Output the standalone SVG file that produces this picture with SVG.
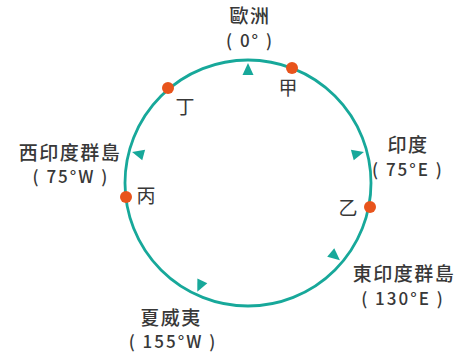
<svg xmlns="http://www.w3.org/2000/svg" xmlns:xlink="http://www.w3.org/1999/xlink" width="465" height="356" viewBox="0 0 465 356">
<style>
  .ring{fill:none;stroke:#17a89a;stroke-width:2.8}
  .tri{fill:#17a89a}
  .dot{fill:#e8541c}
  text{font-family:"Noto Sans CJK TC","Noto Sans",sans-serif;fill:#383838;text-anchor:middle;font-weight:500}
  .name{font-size:19px;letter-spacing:1.5px}
  .deg{font-size:17px;letter-spacing:2px}
  .pt{font-size:19px;font-weight:400}
</style>
<defs>
  <polygon id="mark" points="0,-120 -5.5,-108 5.5,-108"/>
</defs>
<rect width="465" height="356" fill="#ffffff"/>
<g id="connectors">
  <circle class="ring" cx="248" cy="183" r="123"/>
  <g class="tri">
    <use xlink:href="#mark" transform="translate(248,183) rotate(0)"/>
    <use xlink:href="#mark" transform="translate(248,183) rotate(75)"/>
    <use xlink:href="#mark" transform="translate(248,183) rotate(130)"/>
    <use xlink:href="#mark" transform="translate(248,183) rotate(205)"/>
    <use xlink:href="#mark" transform="translate(248,183) rotate(285)"/>
  </g>
</g>
<g id="europe">
  <text><tspan class="name" x="250" y="23">歐洲</tspan><tspan class="deg" x="250" y="47">( 0° )</tspan></text>
</g>
<g id="india">
  <text><tspan class="name" x="408" y="152">印度</tspan><tspan class="deg" x="408" y="176">( 75°E )</tspan></text>
</g>
<g id="east-indies">
  <text><tspan class="name" x="404" y="281">東印度群島</tspan><tspan class="deg" x="403" y="305">( 130°E )</tspan></text>
</g>
<g id="hawaii">
  <text><tspan class="name" x="171" y="325">夏威夷</tspan><tspan class="deg" x="173" y="348">( 155°W )</tspan></text>
</g>
<g id="west-indies">
  <text><tspan class="name" x="70" y="160">西印度群島</tspan><tspan class="deg" x="71" y="183">( 75°W )</tspan></text>
</g>
<g id="point-jia">
  <circle class="dot" cx="292" cy="68" r="6"/>
  <text class="pt" x="288" y="95">甲</text>
</g>
<g id="point-yi">
  <circle class="dot" cx="370" cy="207" r="6"/>
  <text class="pt" x="348" y="215">乙</text>
</g>
<g id="point-bing">
  <circle class="dot" cx="126" cy="197" r="6"/>
  <text class="pt" x="146" y="203">丙</text>
</g>
<g id="point-ding">
  <circle class="dot" cx="168" cy="88" r="6"/>
  <text class="pt" x="185" y="114">丁</text>
</g>
</svg>
